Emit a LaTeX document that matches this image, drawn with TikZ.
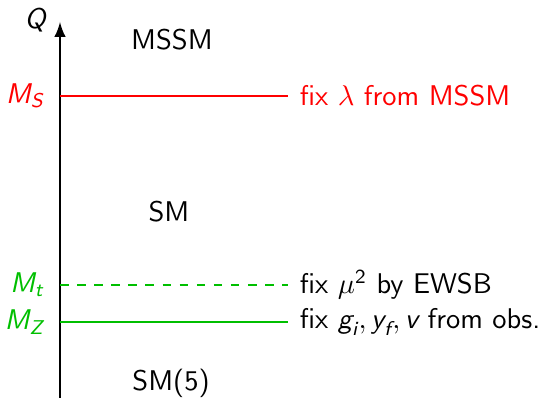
\documentclass[tikz,border=0pt]{standalone}
\usepackage{amsmath,amssymb}
\usepackage{xcolor}
\usepackage{tikz}

% sans oblique letters for math symbols
\newcommand{\sfit}[1]{\text{\sffamily\itshape #1}}

\colorlet{scalegreen}{green!75!black}

\tikzset{
    scaleline/.style={line width=0.8pt},
    rlabel/.style={right, inner sep=4pt, font=\sffamily},
    llabel/.style={left, inner sep=5.4pt, font=\sffamily},
    region/.style={font=\sffamily}
}

\begin{document}
\begin{tikzpicture}[x=0.351pt, y=-0.351pt, >=latex]

    % Frame of the picture (pixel units)
    \useasboundingbox (0,0) rectangle (552,399);

    % Scale axis
    \coordinate (qbot) at (60,398);
    \coordinate (qtop) at (60,22);
    \draw[->, scaleline] (qbot) -- (qtop);
    \node[font=\sffamily] (qlab) at (35,20) {$\sfit{Q}$};

    % Matching scales
    \coordinate (ms) at (60,96);
    \coordinate (mt) at (60,285);
    \coordinate (mz) at (60,322);

    % M_S : red
    \node[llabel, red] (mslab) at (ms) {$\sfit{M}_{\sfit{S}}$};
    \node[rlabel, red] (msfix) at (288,96) {fix $\lambda$ from MSSM};
    \draw[red, scaleline] (ms) -- (msfix.west);

    % M_t : green dashed
    \node[llabel, scalegreen] (mtlab) at (mt) {$\sfit{M}_{\sfit{t}}$};
    \node[rlabel] (mtfix) at (288,285) {fix $\mu^{\text{\sffamily 2}}$ by EWSB};
    \draw[scalegreen, scaleline, dashed] (mt) -- (mtfix.west);

    % M_Z : green
    \node[llabel, scalegreen] (mzlab) at (mz) {$\sfit{M}_{\sfit{Z}}$};
    \node[rlabel] (mzfix) at (288,322) {fix $\sfit{g}_{\sfit{i}}, \sfit{y}_{\sfit{f}}, \sfit{v}$ from obs.};
    \draw[scalegreen, scaleline] (mz) -- (mzfix.west);

    % Effective theories
    \node[region] (mssm) at (172,40) {MSSM};
    \node[region] (sm) at (169,212) {SM};
    \node[region] (sm5) at (171,383) {SM(5)};

\end{tikzpicture}
\end{document}
